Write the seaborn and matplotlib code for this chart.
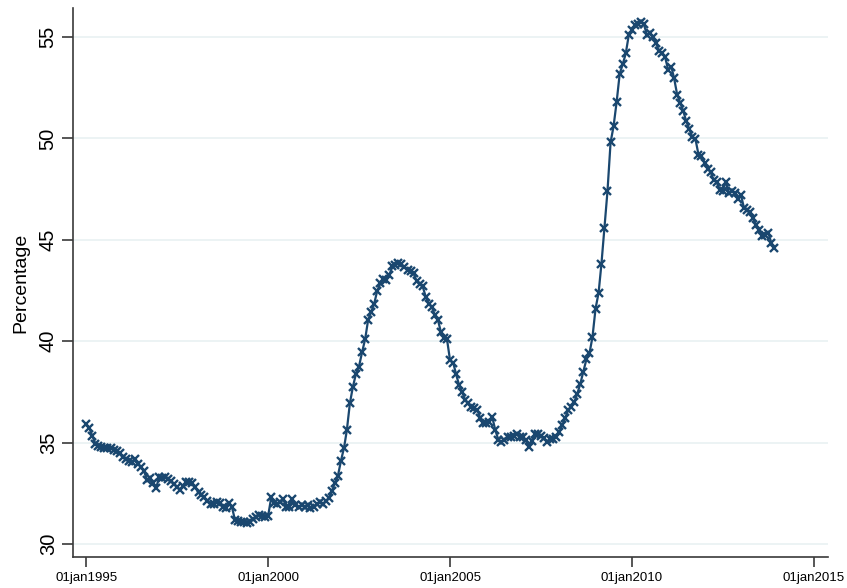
import numpy as np
import pandas as pd
import seaborn as sns
import matplotlib.pyplot as plt
import matplotlib.dates as mdates
from matplotlib.ticker import FuncFormatter

# monthly share, 1995m1 - 2013m12
y1995 = [35.9, 35.7, 35.35, 34.95, 34.85, 34.8, 34.75, 34.72, 34.72, 34.65, 34.6, 34.47]
y1996 = [34.27, 34.17, 34.1, 34.06, 34.17, 33.97, 33.81, 33.61, 33.16, 33.25, 32.99, 32.75]
y1997 = [33.29, 33.24, 33.29, 33.2, 33.1, 32.95, 32.8, 32.66, 32.86, 33.07, 33.07, 32.99]
y1998 = [32.8, 32.55, 32.4, 32.3, 32.1, 31.95, 31.95, 32.05, 32.0, 31.85, 31.77, 32.0]
y1999 = [31.85, 31.2, 31.15, 31.1, 31.1, 31.05, 31.1, 31.25, 31.35, 31.43, 31.4, 31.35]
y2000 = [31.4, 32.3, 32.0, 31.95, 32.05, 32.2, 31.85, 31.85, 32.2, 31.9, 31.85, 31.9]
y2001 = [31.84, 31.92, 31.76, 31.84, 31.97, 32.05, 31.95, 32.1, 32.25, 32.6, 33.0, 33.35]
y2002 = [34.1, 34.75, 35.6, 36.95, 37.75, 38.4, 38.75, 39.45, 40.1, 41.05, 41.45, 41.85]
y2003 = [42.5, 42.85, 43.05, 43.0, 43.25, 43.7, 43.75, 43.85, 43.8, 43.65, 43.5, 43.45]
y2004 = [43.35, 42.95, 42.8, 42.7, 42.2, 41.85, 41.7, 41.3, 41.05, 40.45, 40.15, 40.1]
y2005 = [39.05, 38.95, 38.4, 37.85, 37.5, 37.12, 36.93, 36.77, 36.69, 36.62, 36.2, 35.95]
y2006 = [35.95, 36.03, 36.25, 35.6, 35.15, 35.05, 35.12, 35.3, 35.28, 35.35, 35.42, 35.26]
y2007 = [35.26, 35.13, 34.78, 35.1, 35.43, 35.43, 35.33, 35.21, 35.05, 35.17, 35.17, 35.26]
y2008 = [35.5, 35.85, 36.2, 36.6, 36.75, 37.0, 37.4, 37.9, 38.5, 39.1, 39.4, 40.2]
y2009 = [41.6, 42.4, 43.8, 45.6, 47.4, 49.8, 50.6, 51.8, 53.2, 53.65, 54.2, 55.1]
y2010 = [55.35, 55.58, 55.64, 55.76, 55.64, 55.1, 55.18, 55.0, 54.7, 54.3, 54.23, 54.0]
y2011 = [53.37, 53.54, 52.97, 52.15, 51.75, 51.35, 50.85, 50.45, 50.05, 49.98, 49.2, 49.15]
y2012 = [48.8, 48.5, 48.35, 47.95, 47.87, 47.46, 47.42, 47.87, 47.32, 47.42, 47.3, 47.0]
y2013 = [47.2, 46.55, 46.47, 46.39, 46.06, 45.73, 45.5, 45.2, 45.24, 45.36, 44.86, 44.59]

values = (y1995 + y1996 + y1997 + y1998 + y1999 + y2000 + y2001 + y2002 + y2003 + y2004
          + y2005 + y2006 + y2007 + y2008 + y2009 + y2010 + y2011 + y2012 + y2013)
dates = pd.date_range("1995-01-01", periods=len(values), freq="MS")
df = pd.DataFrame({"date": dates, "pct": values})

sns.set_style("white")
plt.rcParams['font.family'] = ['Liberation Sans', 'DejaVu Sans']

fig = plt.figure(figsize=(8.47, 5.88), dpi=100)
ax = fig.add_axes([0.0862, 0.0527, 0.8914, 0.9337])

navy = '#1a476f'
sns.lineplot(data=df, x="date", y="pct", ax=ax, color=navy, linewidth=1.6,
             marker='x', markersize=5.5, markeredgewidth=1.7, markeredgecolor=navy)

ax.set_xlim(pd.Timestamp("1994-08-20"), pd.Timestamp("2015-05-25"))
ax.set_ylim(29.36, 56.43)
ax.set_yticks([30, 35, 40, 45, 50, 55])
ax.set_xticks([pd.Timestamp(f"{y}-01-01") for y in [1995, 2000, 2005, 2010, 2015]])
ax.xaxis.set_major_formatter(FuncFormatter(lambda v, p: mdates.num2date(v).strftime('%d%b%Y').lower()))

ax.grid(axis='y', color='#eaf2f3', linewidth=1.3)
ax.grid(axis='x', visible=False)
for s in ['top', 'right']:
    ax.spines[s].set_visible(False)
for s in ['left', 'bottom']:
    ax.spines[s].set_color('#3a3a3a')
    ax.spines[s].set_linewidth(1.2)

ax.tick_params(axis='y', direction='out', length=8, width=1.2, color='#3a3a3a',
               labelsize=14.5, labelcolor='black', pad=3, left=True)
ax.tick_params(axis='x', direction='out', length=7, width=1.2, color='#3a3a3a',
               labelsize=9.5, labelcolor='black', pad=4, bottom=True)
for lab in ax.get_yticklabels():
    lab.set_rotation(90)
    lab.set_va('center')

ax.set_xlabel('')
ax.set_ylabel('Percentage', fontsize=14, color='black', labelpad=7)

fig.savefig('out.png', dpi=100)
